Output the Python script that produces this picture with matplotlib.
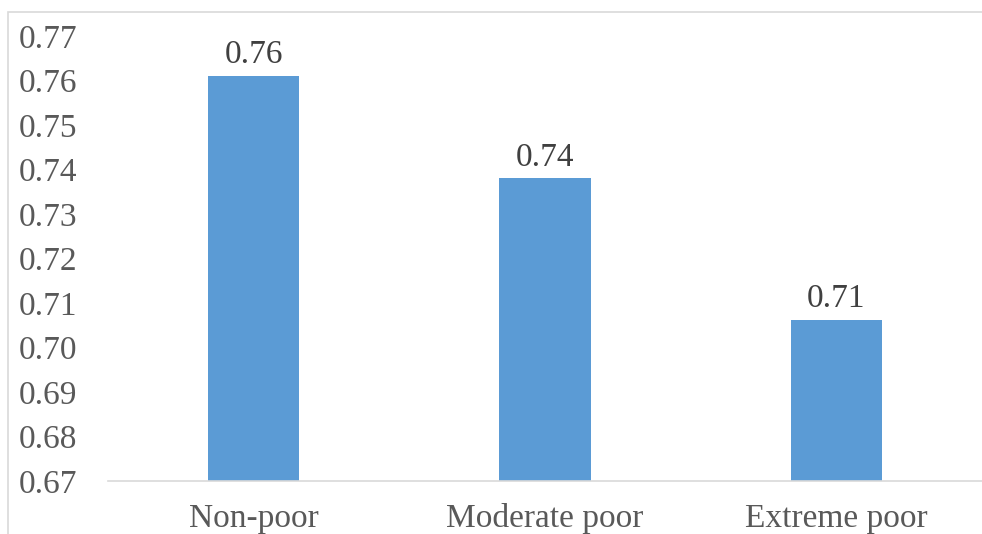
import matplotlib
matplotlib.use("Agg")
import matplotlib.pyplot as plt
from matplotlib.patches import Rectangle

categories = ["Non-poor", "Moderate poor", "Extreme poor"]
values = [0.761, 0.738, 0.7062]
labels = ["0.76", "0.74", "0.71"]
yticks = [0.67, 0.68, 0.69, 0.70, 0.71, 0.72, 0.73, 0.74, 0.75, 0.76, 0.77]

plt.rcParams['font.family'] = ['Liberation Serif', 'DejaVu Serif']

W, H = 982, 534
fig = plt.figure(figsize=(W / 100, H / 100), dpi=100)
ax = fig.add_axes([108 / W, (H - 481) / H, 1 - 108 / W, (481 - 36) / H])

x = list(range(len(categories)))
bars = ax.bar(x, values, width=0.313, color="#5B9BD5", zorder=2)
for xi, v, lab in zip(x, values, labels):
    ax.text(xi, v + 0.0013, lab, ha="center", va="bottom", fontsize=24, color="#404040")

ax.set_xlim(-0.5, 2.5)
ax.set_ylim(0.67, 0.77)
ax.set_yticks(yticks)
ax.set_yticklabels([f"{t:.2f}" for t in yticks], fontsize=24, color="#595959")
ax.set_xticks(x)
ax.set_xticklabels(categories, fontsize=24, color="#595959")
ax.tick_params(axis="y", length=0, pad=22)
ax.tick_params(axis="x", length=0, pad=16)
for s in ["top", "right", "left"]:
    ax.spines[s].set_visible(False)
ax.spines["bottom"].set_color("#d9d9d9")
ax.spines["bottom"].set_linewidth(1.2)

fig.patches.append(Rectangle((8 / W, -0.1), 1.2, (H - 12) / H + 0.1, transform=fig.transFigure,
                             fill=False, edgecolor="#d9d9d9", linewidth=1.2, clip_on=False))

fig.savefig("out.png", dpi=100)
